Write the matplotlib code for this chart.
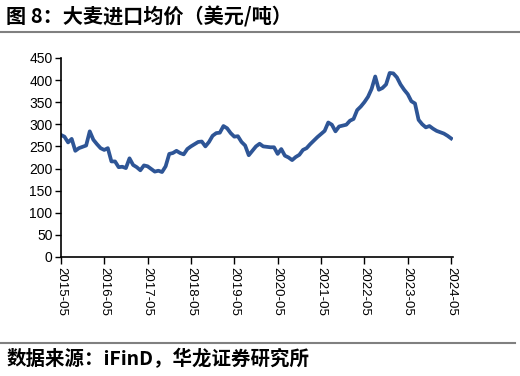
import matplotlib
matplotlib.use("Agg")
import matplotlib.pyplot as plt
import matplotlib.lines as mlines

plt.rcParams['font.family'] = ['Liberation Sans', 'DejaVu Sans']

# monthly barley import price, 2015-05 .. 2024-05 (USD/t)
prices = [
    276, 272, 259, 267, 240, 246, 249, 252, 284, 265,
    255, 246, 242, 246, 216, 216, 203, 204, 201, 223,
    208, 203, 196, 207, 205, 199, 193, 195, 192, 205,
    233, 235, 240, 235, 232, 244, 250, 255, 260, 261,
    250, 260, 274, 280, 281, 296, 291, 280, 272, 273,
    260, 252, 230, 240, 250, 256, 250, 249, 248, 248,
    233, 244, 229, 225, 219, 226, 231, 242, 246, 255,
    263, 271, 278, 285, 304, 299, 284, 295, 297, 299,
    308, 312, 332, 340, 350, 362, 380, 408, 378, 382,
    390, 416, 415, 406, 390, 378, 368, 352, 347, 310,
    300, 293, 296, 290, 285, 282, 279, 274, 268,
]
months = list(range(len(prices)))
tick_labels = ["2015-05", "2016-05", "2017-05", "2018-05", "2019-05",
               "2020-05", "2021-05", "2022-05", "2023-05", "2024-05"]
y_ticks = [0, 50, 100, 150, 200, 250, 300, 350, 400, 450]

title = "图 8：大麦进口均价（美元/吨）"
source = "数据来源：iFinD，华龙证券研究所"

fig = plt.figure(figsize=(5.2, 3.76), dpi=100)
ax = fig.add_axes([0.117, 0.3165, 0.754, 0.5295])

ax.plot(months, prices, color="#2E5596", linewidth=2.7, solid_joinstyle="round")

ax.set_xlim(0, 108.5)
ax.set_ylim(0, 450)
ax.set_yticks(y_ticks)
ax.set_xticks([12 * i for i in range(len(tick_labels))])
ax.set_xticklabels(tick_labels, rotation=-90, fontsize=9.5)
ax.tick_params(axis="y", labelsize=10, length=4, width=1, pad=2)
ax.tick_params(axis="x", length=5, width=1, pad=2)

for s in ["top", "right"]:
    ax.spines[s].set_visible(False)
for s in ["left", "bottom"]:
    ax.spines[s].set_linewidth(1.2)
    ax.spines[s].set_color("black")

cjk = ['Noto Sans CJK SC', 'DejaVu Sans']
fig.text(0.012, 0.955, title, family=cjk, fontsize=14.5, fontweight="bold",
         va="center", ha="left")
fig.text(0.012, 0.045, source, family=cjk, fontsize=14, fontweight="bold",
         va="center", ha="left")

fig.add_artist(mlines.Line2D([0, 1], [0.914, 0.914], color="#808080",
                             linewidth=1.5, transform=fig.transFigure))
fig.add_artist(mlines.Line2D([0, 0.99], [0.088, 0.088], color="#808080",
                             linewidth=1.5, transform=fig.transFigure))

fig.savefig("out.png", dpi=100)
